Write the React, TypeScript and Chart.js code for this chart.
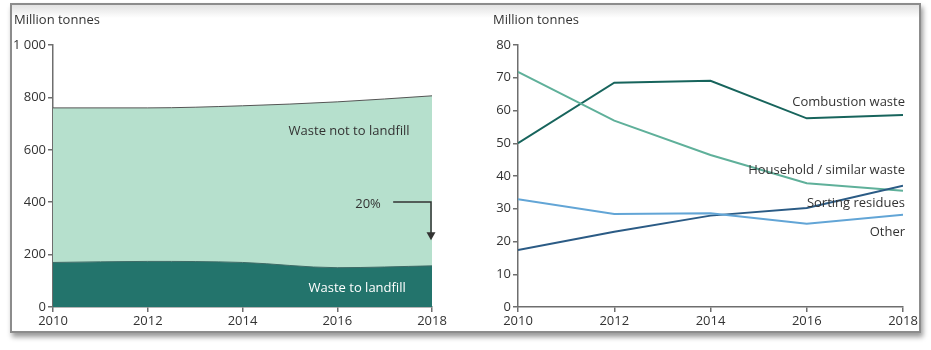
import React, { useEffect, useRef } from "react";
import { Chart, registerables } from "chart.js";

Chart.register(...registerables);

// ---------- Data ----------
const years = [2010, 2012, 2014, 2016, 2018];
const landfill = [170, 174, 170, 150, 157];
const totalWaste = [760, 760, 768, 783, 806];

const combustion = [50, 68.5, 69.1, 57.6, 58.6];
const household = [71.8, 56.9, 46.4, 37.8, 35.5];
const sorting = [17.4, 23, 27.9, 30.2, 37];
const other = [32.9, 28.4, 28.6, 25.4, 28.2];

const leftTitle = "Million tonnes";
const rightTitle = "Million tonnes";

// ---------- Styles ----------
const FONT = "'Open Sans', 'Noto Sans', sans-serif";
const TEXT = "#333333";
const AXIS = "#6e6e6e";
const LIGHT_FILL = "#b6e0cd";
const DARK_FILL = "#23746c";

const fmt = (v: number) => String(v).replace(/\B(?=(\d{3})+(?!\d))/g, " ");

const toPts = (vals: number[]) => vals.map((v, i) => ({ x: years[i], y: v }));

function axes(yMax: number, yStep: number, yWidth: number) {
  const common = {
    grid: {
      drawOnChartArea: false,
      drawTicks: true,
      tickLength: 5,
      color: AXIS,
      lineWidth: 1.5,
    },
    border: { color: AXIS, width: 1.5 },
  };
  return {
    x: {
      type: "linear" as const,
      min: 2010,
      max: 2018,
      ...common,
      ticks: {
        stepSize: 2,
        callback: (v: any) => String(v),
        color: TEXT,
        font: { family: FONT, size: 13 },
        padding: 1,
        maxRotation: 0,
        autoSkip: false,
      },
      afterFit: (s: any) => {
        s.height = 43;
      },
    },
    y: {
      type: "linear" as const,
      min: 0,
      max: yMax,
      ...common,
      ticks: {
        stepSize: yStep,
        callback: (v: any) => fmt(v),
        color: TEXT,
        font: { family: FONT, size: 13 },
        padding: 2,
      },
      afterFit: (s: any) => {
        s.width = yWidth;
      },
    },
  };
}

function titlePlugin(text: string, x: number, y: number) {
  return {
    id: "titleText",
    afterDraw(chart: any) {
      const ctx = chart.ctx;
      ctx.save();
      ctx.font = `13px ${FONT}`;
      ctx.fillStyle = TEXT;
      ctx.textAlign = "left";
      ctx.textBaseline = "middle";
      ctx.fillText(text, x, y);
      ctx.restore();
    },
  };
}

const leftLabels = {
  id: "leftLabels",
  afterDatasetsDraw(chart: any) {
    const { ctx } = chart;
    const x = chart.scales.x;
    const y = chart.scales.y;
    ctx.save();
    ctx.font = `13px ${FONT}`;
    ctx.textBaseline = "middle";
    ctx.textAlign = "center";
    ctx.fillStyle = TEXT;
    ctx.fillText("Waste not to landfill", x.getPixelForValue(2016.25), y.getPixelForValue(672));
    ctx.fillText("20%", x.getPixelForValue(2016.65), y.getPixelForValue(393));
    ctx.fillStyle = "#ffffff";
    ctx.fillText("Waste to landfill", x.getPixelForValue(2016.42), y.getPixelForValue(72));

    // arrow
    const ax0 = x.getPixelForValue(2017.18);
    const ax1 = x.getPixelForValue(2018) - 1;
    const ay0 = y.getPixelForValue(401);
    const ay1 = y.getPixelForValue(255);
    ctx.strokeStyle = "#333333";
    ctx.lineWidth = 1.5;
    ctx.beginPath();
    ctx.moveTo(ax0, ay0);
    ctx.lineTo(ax1, ay0);
    ctx.lineTo(ax1, ay1 - 6);
    ctx.stroke();
    ctx.fillStyle = "#333333";
    ctx.beginPath();
    ctx.moveTo(ax1 - 4.5, ay1 - 8);
    ctx.lineTo(ax1 + 4.5, ay1 - 8);
    ctx.lineTo(ax1, ay1);
    ctx.closePath();
    ctx.fill();
    ctx.restore();
  },
};

const rightLabels = {
  id: "rightLabels",
  afterDatasetsDraw(chart: any) {
    const { ctx } = chart;
    const x = chart.scales.x;
    const y = chart.scales.y;
    const xr = x.getPixelForValue(2018) + 2;
    ctx.save();
    ctx.font = `13px ${FONT}`;
    ctx.textBaseline = "middle";
    ctx.textAlign = "right";
    ctx.fillStyle = TEXT;
    ctx.fillText("Combustion waste", xr, y.getPixelForValue(62.6));
    ctx.fillText("Household / similar waste", xr, y.getPixelForValue(41.8));
    ctx.fillText("Sorting residues", xr, y.getPixelForValue(31.8));
    ctx.fillText("Other", xr, y.getPixelForValue(22.9));
    ctx.restore();
  },
};

function ChartCanvas({ left, width, config }: { left: number; width: number; config: () => any }) {
  const ref = useRef<HTMLCanvasElement | null>(null);
  useEffect(() => {
    if (!ref.current) return;
    const chart = new Chart(ref.current, config());
    return () => chart.destroy();
  }, []);
  return (
    <canvas
      ref={ref}
      width={width}
      height={350}
      style={{ position: "absolute", left, top: 0, width, height: 350 }}
    />
  );
}

const leftConfig = () => ({
  type: "line",
  data: {
    datasets: [
      {
        label: "Waste to landfill",
        data: toPts(landfill),
        borderColor: "#3d6b66",
        borderWidth: 1,
        backgroundColor: DARK_FILL,
        fill: "origin",
        pointRadius: 0,
        cubicInterpolationMode: "monotone",
      },
      {
        label: "Waste not to landfill",
        data: toPts(totalWaste),
        borderColor: "#555555",
        borderWidth: 1,
        backgroundColor: LIGHT_FILL,
        fill: "-1",
        pointRadius: 0,
        cubicInterpolationMode: "monotone",
      },
    ],
  },
  options: {
    responsive: false,
    animation: false,
    layout: { padding: { left: 0, right: 34, top: 45, bottom: 0 } },
    plugins: { legend: { display: false }, tooltip: { enabled: false }, title: { display: false } },
    scales: axes(1000, 200, 53),
  },
  plugins: [leftLabels, titlePlugin(leftTitle, 14, 20)],
});

const lineDs = (label: string, vals: number[], color: string) => ({
  label,
  data: toPts(vals),
  borderColor: color,
  backgroundColor: color,
  borderWidth: 2,
  pointRadius: 0,
  fill: false,
  tension: 0,
});

const rightConfig = () => ({
  type: "line",
  data: {
    datasets: [
      lineDs("Other", other, "#62a5d6"),
      lineDs("Sorting residues", sorting, "#2b5b85"),
      lineDs("Household / similar waste", household, "#5fb09a"),
      lineDs("Combustion waste", combustion, "#17645c"),
    ],
  },
  options: {
    responsive: false,
    animation: false,
    layout: { padding: { left: 0, right: 28, top: 45, bottom: 0 } },
    plugins: { legend: { display: false }, tooltip: { enabled: false }, title: { display: false } },
    scales: axes(80, 10, 52),
  },
  plugins: [rightLabels, titlePlugin(rightTitle, 27, 20)],
});

export default function App() {
  return (
    <div style={{ position: "absolute", left: 0, top: 0, width: 931, height: 350, background: "#ffffff" }}>
      <div
        style={{
          position: "absolute",
          left: 10,
          top: 3,
          width: 907,
          height: 326,
          border: "2px solid #8c8c8c",
          boxShadow: "2px 4px 5px rgba(0,0,0,0.4)",
          background: "linear-gradient(to bottom, #e2e2e2 0px, #ffffff 13px)",
        }}
      />
      <ChartCanvas left={0} width={466} config={leftConfig} />
      <ChartCanvas left={466} width={465} config={rightConfig} />
    </div>
  );
}
